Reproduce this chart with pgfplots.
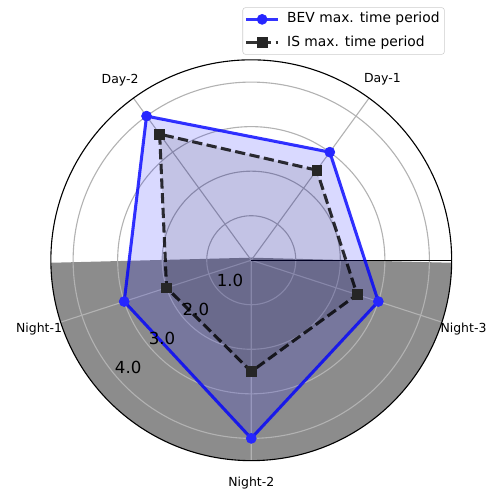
\documentclass[border=0pt]{standalone}
\usepackage{pgfplots}
\pgfplotsset{compat=1.18}
\usepgfplotslibrary{polar}
\usetikzlibrary{backgrounds}
\usepackage{fontspec}
\setmainfont{DejaVu Sans}
\begin{document}
\begin{tikzpicture}
\begin{polaraxis}[
  width=289.44pt, height=289.44pt, scale only axis,
  ymin=0, ymax=4.5,
  xtick={54,126,198,270,342},
  ytick={1,2,3,4},
  xticklabels={}, yticklabels={},
  major tick length=0pt,
  xmajorgrids, ymajorgrids,
  grid style={black!30, line width=0.8pt},
  axis line style={black, line width=0.8pt},
  clip=false,
  legend cell align=left,
  legend style={at={(0.9826,1.131)}, anchor=north east,
    font=\fontsize{10}{12}\selectfont,
    draw=black!20, rounded corners=2pt, fill=white,
    inner sep=1.5pt,
    nodes={inner sep=2pt, text height=7.5pt, text depth=2.5pt},
    /tikz/row sep=2.8pt, /tikz/column sep=3.6pt},
  legend image code/.code={%
    \draw[#1, mark=none] (0pt,0pt) -- (22.8pt,0pt);
    \draw[#1, only marks] plot coordinates {(11.4pt,0pt)};},
]
% BEV
\addplot[fill=blue, fill opacity=0.15, draw=none, forget plot] coordinates {
(54,3) (126,4) (198,3) (270,4) (342,3)} -- cycle;
\addplot[blue, opacity=0.8, line width=2.2pt, mark=*, mark size=3.6pt,
  mark options={solid, opacity=1, fill=blue!85, draw=blue!85, line width=0.5pt}] coordinates {
(54,3) (126,4) (198,3) (270,4) (342,3)} -- cycle;
\addlegendentry{BEV max. time period}
% IS
\addplot[fill=black, fill opacity=0.1, draw=none, forget plot] coordinates {
(54,2.5) (126,3.5) (198,2) (270,2.5) (342,2.5)} -- cycle;
\addplot[black, opacity=0.8, line width=2.2pt, dash pattern=on 7.4pt off 3.2pt, mark=square*, mark size=3.5pt,
  mark options={solid, opacity=1, fill=black!85, draw=black!85, line width=0.5pt}] coordinates {
(54,2.5) (126,3.5) (198,2) (270,2.5) (342,2.5)} -- cycle;
\addlegendentry{IS max. time period}
\node[font=\fontsize{9}{11}\selectfont] at (axis cs:54,5.01) {Day-1};
\node[font=\fontsize{9}{11}\selectfont] at (axis cs:126,5.01) {Day-2};
\node[font=\fontsize{9}{11}\selectfont] at (axis cs:198,5.01) {Night-1};
\node[font=\fontsize{9}{11}\selectfont] at (axis cs:270,5.01) {Night-2};
\node[font=\fontsize{9}{11}\selectfont] at (axis cs:342,5.01) {Night-3};
\node[font=\fontsize{12}{14}\selectfont] at (axis cs:223.3,0.653) {1.0};
\node[font=\fontsize{12}{14}\selectfont] at (axis cs:221.4,1.657) {2.0};
\node[font=\fontsize{12}{14}\selectfont] at (axis cs:221.3,2.668) {3.0};
\node[font=\fontsize{12}{14}\selectfont] at (axis cs:221.0,3.662) {4.0};
\coordinate (O) at (axis cs:0,0);
\end{polaraxis}
\begin{scope}[on background layer]
% lower half-disk as one thick stroked arc (radius 0 to 144.72pt)
\draw[black!45, line width=144.72pt, line cap=butt] ([xshift=-72.36pt]O) arc[start angle=180, end angle=360, radius=72.36pt];
\end{scope}
\path ([shift={(-181.44pt,-167.76pt)}]O) rectangle ([shift={(171.36pt,187.92pt)}]O);
\end{tikzpicture}
\end{document}
